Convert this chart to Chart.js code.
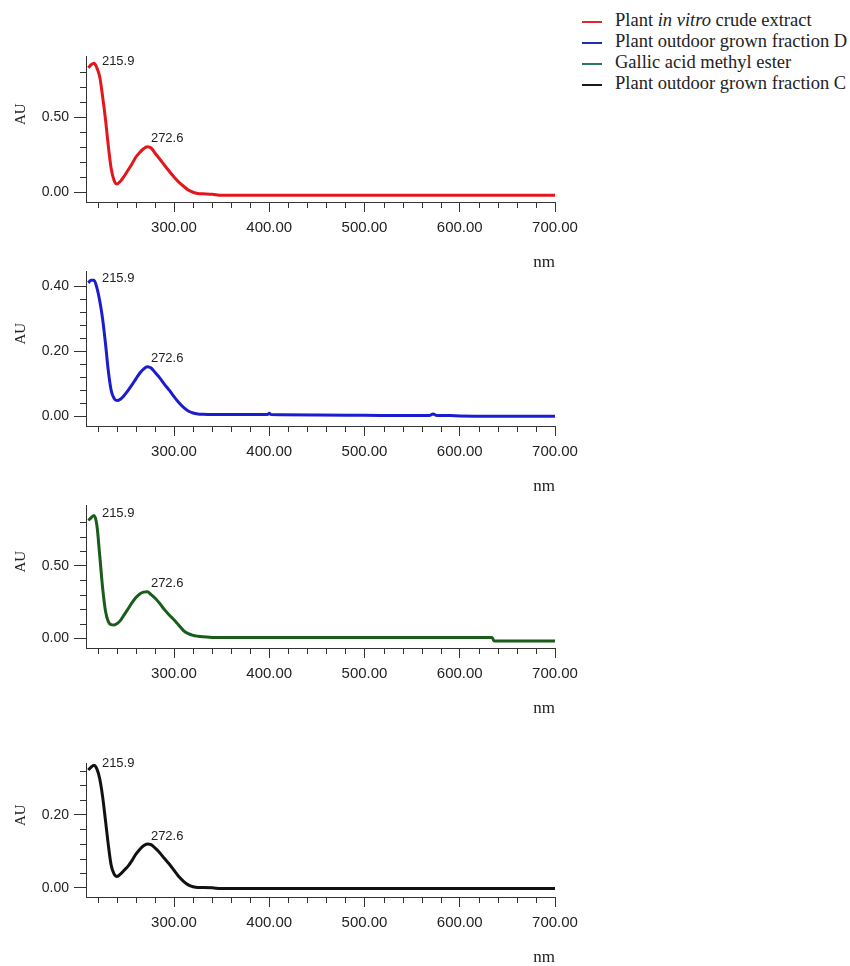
<!DOCTYPE html>
<html lang="en">
<head>
<meta charset="UTF-8">
<title>UV spectra</title>
<script src="https://cdn.jsdelivr.net/npm/chart.js@4.4.1/dist/chart.umd.min.js"></script>
<style>
    html, body { margin: 0; padding: 0; background: #fff; overflow: hidden; }
    #page { position: relative; width: 850px; height: 966px; }
    #page canvas { position: absolute; left: 0; }
    #legend { position: absolute; left: 582px; top: 10px; font-family: "Liberation Serif", "Times New Roman", serif; font-size: 18.5px; color: #222; }
    #legend div { height: 21px; line-height: 21px; white-space: nowrap; }
    #legend .ln { display: inline-block; width: 20px; height: 2px; vertical-align: middle; margin-right: 13px; }
</style>
</head>
<body>
<div id="page">
    <div id="legend">
        <div><span class="ln" style="background:#e0262b"></span>Plant <i>in vitro</i> crude extract</div>
        <div><span class="ln" style="background:#1f2fb0"></span>Plant outdoor grown fraction D</div>
        <div><span class="ln" style="background:#2b7a58"></span>Gallic acid methyl ester</div>
        <div><span class="ln" style="background:#1a1a1a"></span>Plant outdoor grown fraction C</div>
    </div>
    <canvas id="c1" width="600" height="233" style="top:43px"></canvas>
    <canvas id="c2" width="600" height="242" style="top:258px"></canvas>
    <canvas id="c3" width="600" height="230" style="top:492px"></canvas>
    <canvas id="c4" width="600" height="221" style="top:750px"></canvas>
</div>
<script>
// wavelengths (nm)
var wavelengths = [210, 213, 216, 219, 222, 225, 228, 231, 234, 237, 240, 244, 248, 252, 256, 260, 264, 268, 272, 276,
    280, 285, 290, 295, 300, 305, 310, 315, 320, 325, 330, 340, 350, 398, 400, 402, 450, 500, 550, 568, 572, 576, 590,
    600, 634, 636, 700];

// absorbance (AU)
var crudeExtract = [0.83, 0.85, 0.86, 0.83, 0.77, 0.64, 0.49, 0.31, 0.16, 0.08, 0.055, 0.075, 0.11, 0.15, 0.19, 0.235, 0.265, 0.29, 0.303, 0.295,
    0.262, 0.222, 0.18, 0.14, 0.102, 0.068, 0.04, 0.015, 0.0, -0.008, -0.01, -0.013, -0.02, -0.02, -0.02, -0.02, -0.02, -0.02, -0.02, -0.02, -0.02, -0.02, -0.02,
    -0.02, -0.02, -0.02, -0.02];
var fractionD = [0.41, 0.418, 0.418, 0.395, 0.355, 0.30, 0.225, 0.14, 0.08, 0.055, 0.048, 0.053, 0.065, 0.08, 0.097, 0.115, 0.132, 0.145, 0.152, 0.148,
    0.135, 0.118, 0.098, 0.08, 0.06, 0.042, 0.027, 0.016, 0.01, 0.007, 0.006, 0.005, 0.005, 0.005, 0.009, 0.005, 0.004, 0.003, 0.002, 0.002, 0.007, 0.002, 0.002,
    0.001, 0.0, 0.0, 0.0];
var gallicEster = [0.812, 0.83, 0.846, 0.78, 0.57, 0.35, 0.19, 0.115, 0.094, 0.092, 0.10, 0.125, 0.165, 0.205, 0.245, 0.28, 0.305, 0.318, 0.32, 0.30,
    0.277, 0.24, 0.197, 0.16, 0.127, 0.09, 0.053, 0.032, 0.02, 0.014, 0.01, 0.006, 0.005, 0.005, 0.005, 0.005, 0.005, 0.005, 0.005, 0.005, 0.005, 0.005, 0.005,
    0.005, 0.005, -0.018, -0.018];
var fractionC = [0.322, 0.33, 0.335, 0.325, 0.298, 0.25, 0.185, 0.118, 0.062, 0.038, 0.031, 0.038, 0.049, 0.06, 0.075, 0.092, 0.105, 0.115, 0.12, 0.118,
    0.109, 0.096, 0.08, 0.065, 0.048, 0.031, 0.018, 0.008, 0.003, 0.001, 0.001, 0.0, -0.002, -0.002, -0.002, -0.002, -0.002, -0.002, -0.002, -0.002, -0.002, -0.002, -0.002,
    -0.002, -0.002, -0.002, -0.002];

var peakLabels = [215.9, 272.6];

// ticks
var xTicks = [300, 400, 500, 600, 700];
var xMinorTicks = [220, 240, 260, 280, 320, 340, 360, 380, 420, 440, 460, 480, 520, 540, 560, 580, 620, 640, 660, 680];
var yTicksA = [0, 0.5];
var yMinorA = [0.1, 0.2, 0.3, 0.4, 0.6, 0.7, 0.8];
var yTicksB = [0, 0.2, 0.4];
var yMinorB = [0.04, 0.08, 0.12, 0.16, 0.24, 0.28, 0.32, 0.36];
var yTicksC = [0, 0.2];
var yMinorC = [0.04, 0.08, 0.12, 0.16, 0.24, 0.28, 0.32];

Chart.defaults.font.family = '"Liberation Sans", Arial, sans-serif';
Chart.defaults.color = '#222';

var extras = {
    id: 'extras',
    afterDraw: function(chart, args, opts) {
        var ctx = chart.ctx, x = chart.scales.x, y = chart.scales.y, area = chart.chartArea;
        ctx.save();
        ctx.strokeStyle = '#333';
        ctx.lineWidth = 1;
        ctx.beginPath();
        xMinorTicks.forEach(function(v) {
            var px = Math.round(x.getPixelForValue(v)) + 0.5;
            ctx.moveTo(px, area.bottom);
            ctx.lineTo(px, area.bottom + 6);
        });
        opts.minor.forEach(function(v) {
            var py = Math.round(y.getPixelForValue(v)) + 0.5;
            ctx.moveTo(area.left - 6, py);
            ctx.lineTo(area.left, py);
        });
        ctx.stroke();

        // y axis title
        ctx.fillStyle = '#222';
        ctx.textAlign = 'center';
        ctx.textBaseline = 'middle';
        ctx.font = '15px "Liberation Serif", serif';
        ctx.save();
        ctx.translate(21, (area.top + area.bottom) / 2 - 15);
        ctx.rotate(-Math.PI / 2);
        ctx.fillText('AU', 0, 0);
        ctx.restore();

        // peak labels
        var dx = [8, 3], dy = [-2, -8];
        ctx.font = '13px "Liberation Sans", Arial, sans-serif';
        ctx.textAlign = 'left';
        peakLabels.forEach(function(nm, i) {
            var top = -1;
            wavelengths.forEach(function(w, k) {
                if (Math.abs(w - nm) <= 5 && opts.values[k] > top) top = opts.values[k];
            });
            ctx.fillText(nm.toFixed(1), x.getPixelForValue(nm) + dx[i], y.getPixelForValue(top) + dy[i]);
        });
        ctx.restore();
    }
};

function makePanel(id, values, color, yMin, yMax, major, minor) {
    var points = wavelengths.map(function(w, i) { return {x: w, y: values[i]}; });
    return new Chart(document.getElementById(id), {
        type: 'line',
        data: {
            datasets: [{
                data: points,
                borderColor: color,
                borderWidth: 3,
                pointRadius: 0,
                cubicInterpolationMode: 'monotone',
                fill: false
            }]
        },
        options: {
            responsive: false,
            animation: false,
            layout: { padding: { top: 10, right: 45, left: 0, bottom: 0 } },
            plugins: {
                legend: { display: false },
                tooltip: { enabled: false },
                extras: { minor: minor, values: values }
            },
            scales: {
                x: {
                    type: 'linear',
                    min: 207.6,
                    max: 700,
                    afterBuildTicks: function(s) { s.ticks = xTicks.map(function(v) { return {value: v}; }); },
                    afterFit: function(s) { s.height = 74; },
                    grid: { drawOnChartArea: false, tickLength: 10, tickColor: '#333' },
                    border: { color: '#333', width: 1 },
                    ticks: { padding: 7, font: { size: 15 }, maxRotation: 0, autoSkip: false,
                        callback: function(v) { return Number(v).toFixed(2); } },
                    title: { display: true, text: 'nm', align: 'end', color: '#222',
                        font: { family: '"Liberation Serif", serif', size: 17 }, padding: { top: 0, bottom: 3 } }
                },
                y: {
                    min: yMin,
                    max: yMax,
                    afterBuildTicks: function(s) { s.ticks = major.map(function(v) { return {value: v}; }); },
                    afterFit: function(s) { s.width = 86; },
                    grid: { drawOnChartArea: false, tickLength: 12, tickColor: '#333' },
                    border: { color: '#333', width: 1 },
                    ticks: { padding: 5, font: { size: 14 }, autoSkip: false,
                        callback: function(v) { return Number(v).toFixed(2); } }
                }
            }
        },
        plugins: [extras]
    });
}

makePanel('c1', crudeExtract, '#e3161b', -0.065, 0.906, yTicksA, yMinorA);
makePanel('c2', fractionD, '#1c1ccf', -0.030, 0.445, yTicksB, yMinorB);
makePanel('c3', gallicEster, '#1a5c1a', -0.067, 0.915, yTicksA, yMinorA);
makePanel('c4', fractionC, '#111111', -0.025, 0.34, yTicksC, yMinorC);
</script>
</body>
</html>
